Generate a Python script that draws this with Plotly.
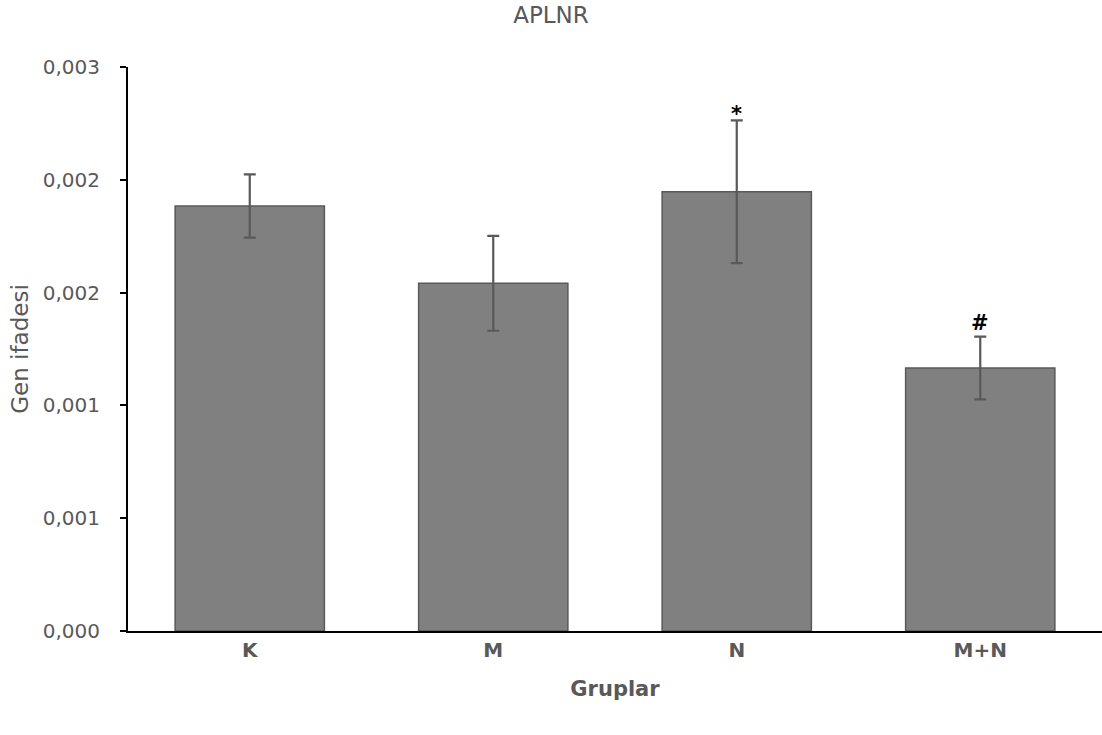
import plotly.graph_objects as go

categories = ["K", "M", "N", "M+N"]
values = [0.001884, 0.001541, 0.001947, 0.001166]
errors = [0.00014, 0.00021, 0.000316, 0.000139]
marks = ["", "", "*", "#"]
tick_vals = [0, 0.0005, 0.001, 0.0015, 0.002, 0.0025]
tick_text = ["0,000", "0,001", "0,001", "0,002", "0,002", "0,003"]

FONT = "DejaVu Sans"
GRAY = "#595959"
MARK_SHIFT = {"*": -8, "#": 0}

fig = go.Figure()
fig.add_trace(go.Bar(
    x=categories, y=values,
    marker=dict(color="#808080", line=dict(color=GRAY, width=1.5)),
    error_y=dict(type="data", array=errors, visible=True, color=GRAY, thickness=2.2, width=6),
    showlegend=False,
))

for c, v, e, m in zip(categories, values, errors, marks):
    if m:
        fig.add_annotation(x=c, y=v + e, text=m, showarrow=False, yanchor="bottom",
                           yshift=MARK_SHIFT.get(m, 0),
                           font=dict(family=FONT, size=21, color="black", weight="bold"))

fig.update_layout(
    width=1102, height=735,
    paper_bgcolor="white", plot_bgcolor="white",
    margin=dict(l=128, r=0, t=67, b=104),
    bargap=0.387,
    title=dict(text="APLNR", x=0.5, xref="container", xanchor="center", y=1 - 15 / 735, yanchor="middle",
               font=dict(family=FONT, size=23, color=GRAY)),
    font=dict(family=FONT, color=GRAY),
    xaxis=dict(
        showline=True, linecolor="black", linewidth=2,
        ticks="", ticklabelstandoff=0,
        tickfont=dict(family=FONT, size=20, color=GRAY, weight="bold"),
        title=dict(text="Gruplar", font=dict(family=FONT, size=21, color=GRAY, weight="bold"), standoff=20),
        showgrid=False,
    ),
    yaxis=dict(
        range=[0, 0.0025], showline=True, linecolor="black", linewidth=2,
        tickmode="array", tickvals=tick_vals, ticktext=tick_text,
        ticks="outside", ticklen=6, tickwidth=2, tickcolor="black",
        ticklabelstandoff=16,
        tickfont=dict(family=FONT, size=20, color=GRAY),
        title=dict(text="Gen ifadesi", font=dict(family=FONT, size=23, color=GRAY), standoff=8),
        showgrid=False, zeroline=False,
    ),
)

fig.write_html("out.html", config={"displayModeBar": False},
               post_script="document.body.style.margin='0';document.body.style.overflow='hidden';")
